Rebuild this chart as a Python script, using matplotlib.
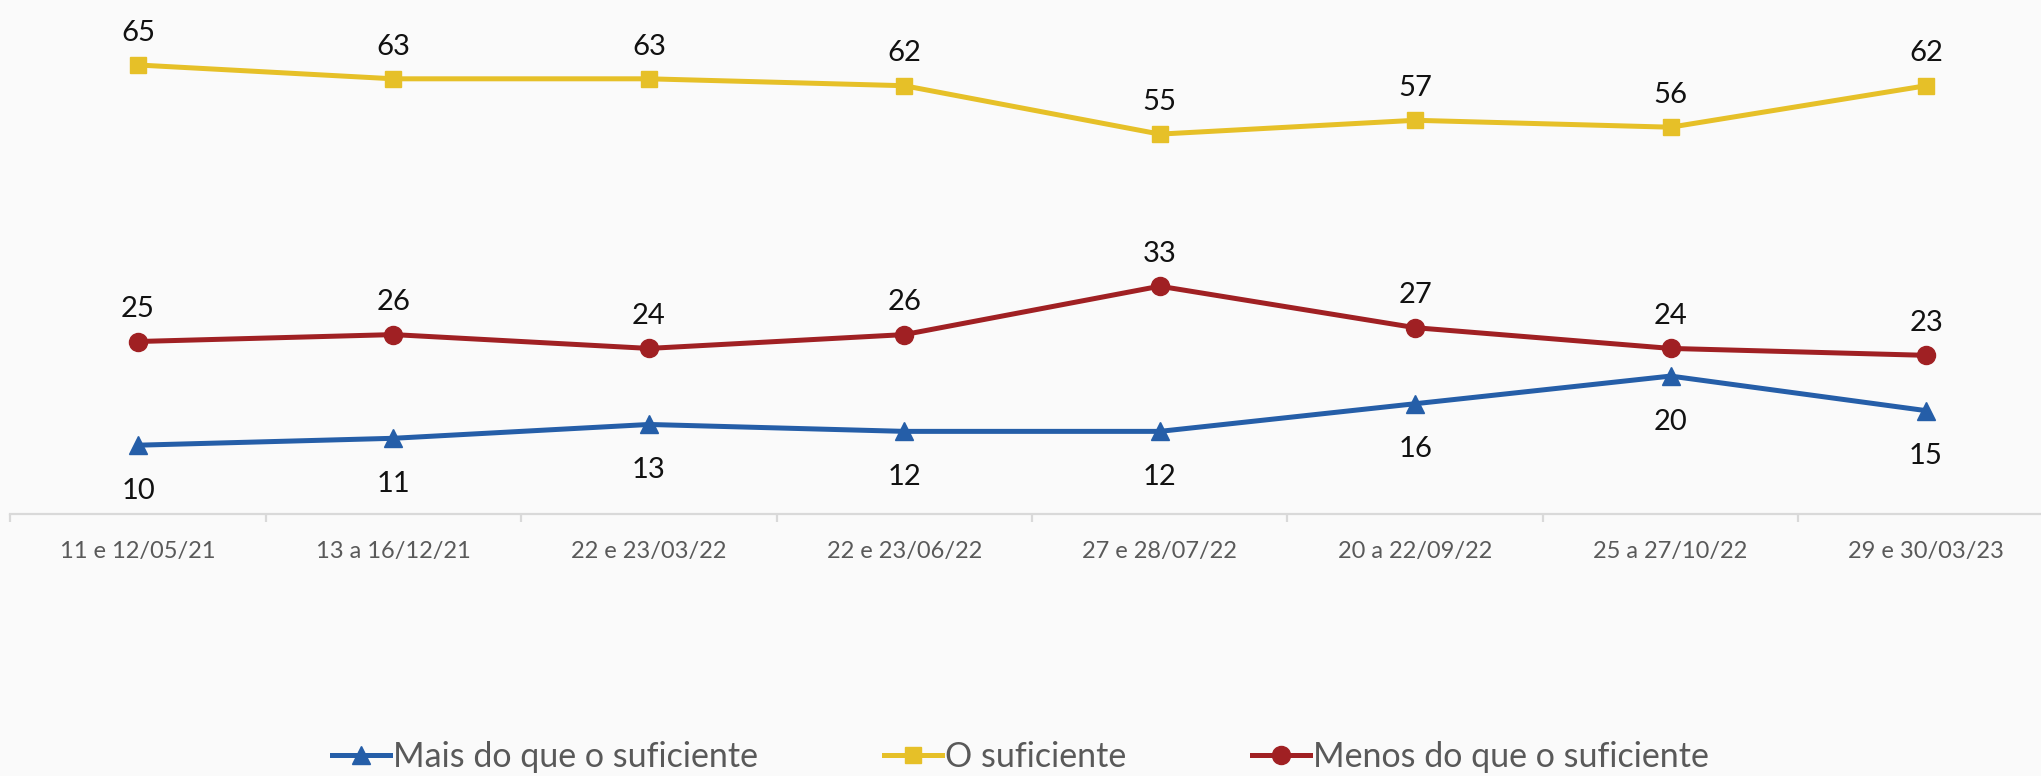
import numpy as np
import matplotlib.pyplot as plt

# Survey data
periods = ['11 e 12/05/21', '13 a 16/12/21', '22 e 23/03/22', '22 e 23/06/22',
           '27 e 28/07/22', '20 a 22/09/22', '25 a 27/10/22', '29 e 30/03/23']
mais = [10, 11, 13, 12, 12, 16, 20, 15]
suficiente = [65, 63, 63, 62, 55, 57, 56, 62]
menos = [25, 26, 24, 26, 33, 27, 24, 23]

plt.rcParams['font.family'] = ['Lato', 'DejaVu Sans']
bg = '#FAFAFA'

fig = plt.figure(figsize=(20.41, 7.76), dpi=100, facecolor=bg)
ax = fig.add_axes([0.00505, 0.3372, 1.0012, 0.6628], facecolor=bg)

x = np.arange(len(periods))
series = [
    ('Mais do que o suficiente', mais, '#255EA8', '^', 13, -31),
    ('O suficiente', suficiente, '#E6C028', 's', 12, 25),
    ('Menos do que o suficiente', menos, '#A02023', 'o', 13, 25),
]
for name, vals, col, mk, ms, off in series:
    ax.plot(x, vals, color=col, lw=3.6, marker=mk, ms=ms, label=name,
            solid_joinstyle='round')
    for xi, v in zip(x, vals):
        ax.annotate(str(v), (xi, v), xytext=(0, off), textcoords='offset points',
                    ha='center', va='center_baseline', fontsize=21, color='#111111')

ax.set_xlim(-0.5, len(periods) - 0.5)
ax.set_ylim(0, 74.4)
ax.set_yticks([])
for s in ['top', 'right', 'left']:
    ax.spines[s].set_visible(False)
ax.spines['bottom'].set_color('#D9D9D9')
ax.spines['bottom'].set_linewidth(1.6)

ax.set_xticks(x)
ax.set_xticklabels(periods, fontsize=17, color='#595959')
ax.tick_params(axis='x', which='major', length=0, pad=19)
ax.set_xticks(np.arange(-0.5, len(periods), 1), minor=True)
ax.tick_params(axis='x', which='minor', length=6, width=1.6, color='#D9D9D9')

fig.legend(loc='center', bbox_to_anchor=(0.5, 0.025), ncol=3, frameon=False,
           fontsize=24.5, labelcolor='#595959', handlelength=1.7, handletextpad=0.1,
           columnspacing=3.7, markerscale=1.0)

fig.savefig('out.png', dpi=100, facecolor=bg)
